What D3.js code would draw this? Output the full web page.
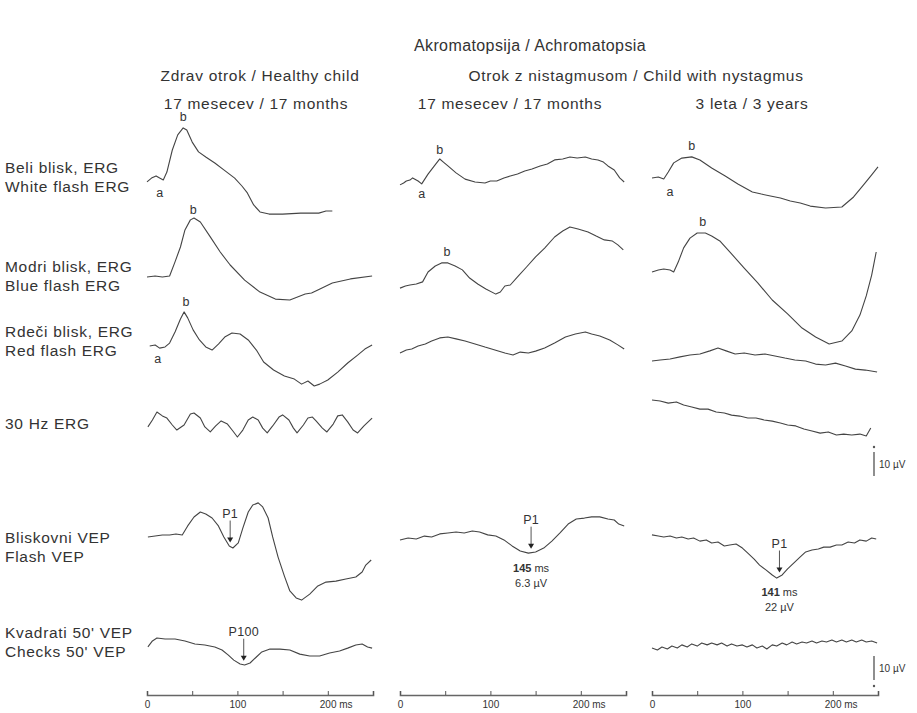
<!DOCTYPE html>
<html>
<head>
<meta charset="utf-8">
<script src="https://cdn.jsdelivr.net/npm/d3@7/dist/d3.min.js"></script>
<style>
    body { margin: 0; background: #ffffff; }
    svg text { font-family: 'Liberation Sans', Arial, sans-serif; fill: #333333; }
</style>
</head>
<body>
<svg id="chart" width="917" height="713"></svg>
<script>

// time axis (ms) and labels
var timeTicks = [ 0, 50, 100, 150, 200, 250 ];
var timeLabels = [ 0, 100, 200 ];

var title = 'Akromatopsija / Achromatopsia';
var groupHeaders = [ 'Zdrav otrok / Healthy child', 'Otrok z nistagmusom / Child with nystagmus' ];
var columnHeaders = [ '17 mesecev / 17 months', '17 mesecev / 17 months', '3 leta / 3 years' ];

var rowLabels = [
    [ 'Beli blisk, ERG', 'White flash ERG' ],
    [ 'Modri blisk, ERG', 'Blue flash ERG' ],
    [ 'Rdeči blisk, ERG', 'Red flash ERG' ],
    [ '30 Hz ERG' ],
    [ 'Bliskovni VEP', 'Flash VEP' ],
    [ 'Kvadrati 50\' VEP', 'Checks 50\' VEP' ]
];

// traces: [ ms, µV ]
var whiteHealthy = [ [0,-0.8],[5,0.8],[10,1.7],[14,0.8],[18,0],[22,3.3],[28,12.5],[34,18.8],[40,21.7],[44,20.8],[50,15.8],[57,11.7],[65,9.6],[75,7.1],[85,4.2],[97,0.8],[105,-2.5],[111,-5.4],[118,-10.4],[125,-13.3],[135,-14.2],[150,-14.2],[170,-13.8],[190,-13.8],[198,-12.9],[205,-12.9] ];
var whiteNyst17 = [ [0,-1.2],[4,-0.4],[7,0.4],[11,0.8],[14,1.7],[20,0.4],[24,-0.8],[31,3.3],[38,6.7],[44,9.6],[48,8.3],[53,6.7],[62,3.8],[72,1.2],[83,0],[94,-0.4],[100,0.4],[107,0.4],[115,1.7],[122,2.5],[130,3.3],[138,4.6],[146,5.4],[155,6.7],[163,7.5],[171,9.2],[180,9.6],[188,10.4],[196,10],[205,10.4],[212,9.6],[219,9.2],[225,8.3],[230,6.7],[237,5],[243,1.7],[248,0] ];
var whiteNyst3 = [ [0,0],[7,0.4],[13,-0.4],[18,2.5],[24,6.3],[33,8.3],[44,8.8],[53,7.5],[66,4.2],[81,0.8],[95,-2.5],[111,-5.8],[121,-6.7],[131,-7.5],[142,-8.3],[153,-9.6],[164,-10.4],[175,-11.7],[192,-12.5],[210,-12.1],[223,-7.9],[234,-2.9],[243,1.3],[250,4.6] ];

var blueHealthy = [ [0,0],[9,0.4],[17,0],[25,0.4],[31,6.3],[37,12.5],[42,19.6],[48,23.8],[52,24.6],[59,22.9],[70,16.7],[81,10.4],[92,5],[108,-1.3],[125,-6.3],[142,-9.2],[158,-9.6],[175,-7.1],[182,-6.7],[189,-5.4],[205,-2.5],[225,-0.8],[249,0.4] ];
var blueNyst17 = [ [0,-1.3],[6,-0.4],[11,0],[18,0.4],[25,1.3],[31,5.4],[39,7.9],[46,9.2],[53,9.2],[61,7.9],[69,6.3],[77,2.9],[86,0.4],[95,-1.7],[106,-3.8],[111,-2.9],[116,-0.4],[122,0],[131,3.8],[140,7.5],[150,11.7],[160,15.4],[171,20],[180,22.5],[188,24.2],[197,23.3],[208,22.1],[217,20.4],[226,18.8],[235,18.3],[241,16.7],[247,14.6] ];
var blueNyst3 = [ [0,-0.8],[7,0],[13,0.4],[20,0],[24,-0.8],[29,3.3],[35,9.2],[42,13.3],[50,15.4],[59,15.4],[66,14.2],[75,12.1],[88,6.7],[102,0.8],[117,-5.4],[133,-12.5],[150,-18.3],[166,-24.2],[181,-27.9],[196,-30.8],[210,-29.6],[221,-25.4],[230,-18.8],[237,-10.8],[243,-2.1],[248,7.5] ];

var redHealthy = [ [3,-0.4],[9,0],[14,-1.3],[20,-0.8],[25,0.8],[31,5.4],[37,10.8],[41,13.8],[45,11.3],[51,6.3],[58,2.1],[65,-0.8],[72,-2.1],[79,0.4],[86,3.3],[94,5],[103,4.6],[112,2.1],[121,-2.1],[129,-7.1],[140,-10.4],[152,-12.9],[163,-14.2],[171,-16.3],[178,-15],[185,-17.1],[191,-16.3],[200,-14.6],[211,-11.3],[222,-7.5],[233,-4.2],[241,-1.7],[249,0] ];
var redNyst17 = [ [0,-2.1],[7,-0.8],[13,-0.4],[20,0.8],[28,1.7],[35,2.9],[44,4.2],[53,4.6],[62,3.8],[72,2.9],[83,1.7],[94,0.4],[105,-0.8],[116,-2.1],[125,-2.9],[133,-1.7],[142,-2.1],[150,-1.3],[160,0],[171,2.1],[183,4.6],[194,5.8],[205,6.7],[212,5.8],[221,5],[232,3.3],[241,1.3],[248,-0.4] ];
var redNyst3 = [ [0,-0.4],[9,0],[20,0.4],[31,1.3],[42,2.1],[53,2.5],[64,3.8],[73,5],[82,3.8],[92,2.5],[102,2.9],[114,2.1],[125,2.5],[136,1.7],[147,0.8],[158,0],[170,-0.4],[181,-1.7],[192,-2.1],[203,-1.3],[214,-2.5],[225,-3.8],[236,-4.2],[249,-5] ];

var flickerHealthy = [ [1,-0.8],[6,2.1],[11,5.4],[17,3.8],[22,2.9],[28,0],[33,-2.1],[41,0],[48,4.6],[52,5],[59,2.9],[64,-0.8],[70,-2.9],[76,-0.4],[82,1.7],[89,0.4],[95,-2.5],[100,-5],[106,-2.1],[112,2.1],[117,3.3],[123,2.1],[128,-1.3],[133,-3.3],[139,-0.4],[146,3.3],[150,4.2],[157,2.1],[162,-1.3],[166,-3.3],[173,0],[178,2.9],[183,3.3],[187,1.7],[194,-1.3],[199,-2.9],[206,0.4],[211,3.8],[216,4.2],[222,1.3],[228,-2.1],[233,-3.3],[240,-0.4],[249,2.9] ];
var flickerNyst3 = [ [0,0],[9,-0.4],[18,-1.3],[27,-0.8],[35,-2.1],[44,-2.9],[53,-3.8],[62,-3.8],[71,-5],[80,-5.4],[88,-6.3],[97,-6.7],[106,-7.5],[115,-7.5],[124,-8.3],[133,-8.8],[142,-9.6],[150,-10.4],[159,-10.8],[168,-12.1],[177,-12.9],[186,-13.8],[195,-13.3],[204,-14.6],[212,-14.2],[221,-14.6],[230,-14.2],[237,-15],[242,-11.7] ];

var flashHealthy = [ [1,-0.4],[9,0],[17,0.4],[25,0.4],[32,0.8],[39,0.4],[45,4.2],[52,7.9],[59,10],[65,9.2],[72,7.5],[79,4.2],[85,-0.4],[91,-4.2],[95,-5],[101,-2.9],[106,3.3],[112,10],[117,12.9],[123,13.8],[128,12.1],[134,7.5],[139,-0.4],[145,-8.8],[152,-16.7],[158,-22.9],[165,-25.8],[171,-26.7],[180,-24.2],[189,-20.8],[198,-19.2],[209,-18.8],[220,-17.9],[231,-17.1],[238,-15],[242,-12.1],[248,-10] ];
var flashNyst17 = [ [0,-0.8],[9,0],[18,-0.4],[27,0.8],[35,0.4],[44,1.7],[53,2.1],[62,2.5],[71,2.1],[80,2.9],[88,2.5],[97,1.3],[106,0.8],[115,-0.8],[124,-3.3],[133,-5.4],[142,-6.3],[150,-5.8],[159,-4.2],[168,-1.3],[177,2.1],[186,5.8],[195,7.9],[204,8.3],[212,8.8],[221,8.8],[230,7.9],[237,7.5],[242,5.8],[248,5] ];
var flashNyst3 = [ [0,1.3],[7,0.8],[13,0.4],[20,0.8],[27,0],[33,0.4],[40,-0.4],[46,0],[53,-1.3],[60,-0.8],[66,-2.1],[73,-1.7],[80,-3.3],[86,-2.9],[93,-2.5],[100,-4.2],[106,-6.3],[113,-8.8],[119,-11.3],[126,-13.3],[133,-15.4],[138,-16.7],[144,-15.4],[150,-12.9],[157,-10.4],[164,-7.9],[170,-5.8],[177,-5],[184,-4.6],[190,-3.8],[197,-3.8],[204,-2.9],[210,-2.9],[217,-1.7],[224,-2.1],[230,-0.8],[237,-1.3],[243,0],[248,-0.4] ];

var checksHealthy = [ [1,-0.8],[6,1.7],[11,2.9],[20,2.5],[31,2.5],[42,1.7],[53,0.4],[64,0],[75,-0.8],[83,-2.1],[90,-4.2],[96,-6.3],[103,-7.9],[108,-8.3],[114,-7.5],[121,-5],[127,-2.9],[136,-1.7],[147,-1.7],[158,-2.1],[169,-3.8],[180,-4.6],[191,-4.6],[202,-3.3],[213,-2.5],[222,-1.3],[231,0],[238,0.4],[244,-0.8],[249,-1.3] ];
var checksNyst3 = [ [0,0],[6,-0.8],[11,0.4],[17,-0.4],[22,0.8],[28,0],[33,1.3],[39,0.4],[44,1.7],[50,0.8],[55,2.1],[61,1.3],[66,2.1],[72,1.3],[77,2.1],[83,0.8],[88,1.7],[94,0.8],[100,1.3],[105,0.4],[111,1.3],[116,0],[122,0.8],[127,-0.4],[133,1.3],[138,0.8],[144,2.1],[149,1.3],[155,2.5],[160,1.7],[166,2.5],[171,2.1],[177,2.9],[182,2.1],[188,2.9],[193,2.5],[199,3.3],[204,2.5],[210,3.3],[215,2.5],[221,3.3],[226,2.5],[232,3.3],[237,2.5],[243,2.9],[249,2.1] ];

// P1 / P100 latency (ms) and amplitude (µV)
var p1Latency = [ 92, 145, 141 ];
var p1Amplitude = [ null, '6.3', '22' ];
var p100Latency = 107;

// ---- layout ----
var colX = [ 147, 400, 652 ];
var colW = 226;
var axisY = 695;

var x = colX.map( function ( x0 ) {
    return d3.scaleLinear().domain([ 0, 250 ]).range([ x0, x0 + colW ]);
});

// 10 µV = 24 px
var uv = d3.scaleLinear().domain([ 0, 10 ]).range([ 0, -24 ]);

var traces = [
    { data: whiteHealthy,   col: 0, base: 180 },
    { data: whiteNyst17,    col: 1, base: 182 },
    { data: whiteNyst3,     col: 2, base: 178 },
    { data: blueHealthy,    col: 0, base: 277 },
    { data: blueNyst17,     col: 1, base: 285 },
    { data: blueNyst3,      col: 2, base: 270 },
    { data: redHealthy,     col: 0, base: 345 },
    { data: redNyst17,      col: 1, base: 348 },
    { data: redNyst3,       col: 2, base: 360 },
    { data: flickerHealthy, col: 0, base: 425 },
    { data: flickerNyst3,   col: 2, base: 400 },
    { data: flashHealthy,   col: 0, base: 536 },
    { data: flashNyst17,    col: 1, base: 538 },
    { data: flashNyst3,     col: 2, base: 538 },
    { data: checksHealthy,  col: 0, base: 645 },
    { data: checksNyst3,    col: 2, base: 648 }
];

var rowLabelY = [ 167, 266, 331, 423, 537, 632 ];

var svg = d3.select('#chart');

function valueAt ( t, ms ) {

    var d = t.data;

    for ( var i = 1; i < d.length; i++ ) {
        if ( d[ i ][ 0 ] >= ms ) {
            var k = ( ms - d[ i - 1 ][ 0 ] ) / ( d[ i ][ 0 ] - d[ i - 1 ][ 0 ] );
            return d[ i - 1 ][ 1 ] + k * ( d[ i ][ 1 ] - d[ i - 1 ][ 1 ] );
        }
    }

    return d[ d.length - 1 ][ 1 ];

}

function yOf ( t, v ) {

    return t.base + uv( v );

}

function label ( sel, size, spacing ) {

    return sel
        .attr('dominant-baseline', 'central')
        .style('font-size', size + 'px')
        .style('letter-spacing', spacing + 'px');

}

// titles
label( svg.append('text'), 16, 0.4 )
    .attr('x', 530)
    .attr('y', 45)
    .attr('text-anchor', 'middle')
    .text( title );

svg.selectAll('.group-header')
    .data( groupHeaders )
    .enter().append('text')
    .attr('class', 'group-header')
    .call( label, 15.5, 0.7 )
    .attr('x', function ( d, i ) { return [ 260, 636 ][ i ]; })
    .attr('y', 75)
    .attr('text-anchor', 'middle')
    .text( function ( d ) { return d; });

svg.selectAll('.col-header')
    .data( columnHeaders )
    .enter().append('text')
    .attr('class', 'col-header')
    .call( label, 15.5, 0.7 )
    .attr('x', function ( d, i ) { return [ 256, 510, 752 ][ i ]; })
    .attr('y', 103)
    .attr('text-anchor', 'middle')
    .text( function ( d ) { return d; });

// row labels
rowLabels.forEach( function ( lines, r ) {

    lines.forEach( function ( s, j ) {

        label( svg.append('text'), 15.5, 0.7 )
            .attr('x', 5)
            .attr('y', rowLabelY[ r ] + j * 19)
            .text( s );

    });

});

// traces
traces.forEach( function ( t ) {

    var line = d3.line()
        .x( function ( d ) { return x[ t.col ]( d[ 0 ] ); })
        .y( function ( d ) { return yOf( t, d[ 1 ] ); });

    svg.append('path')
        .datum( t.data )
        .attr('d', line)
        .attr('fill', 'none')
        .attr('stroke', '#444444')
        .attr('stroke-width', 1.1)
        .attr('stroke-linejoin', 'round');

});

// a / b wave labels: [ trace index, text, ms, y ]
var waveMarks = [
    [ 0, 'a', 14, 193 ], [ 0, 'b', 40, 117 ],
    [ 1, 'a', 24, 194 ], [ 1, 'b', 44, 150 ],
    [ 2, 'a', 20, 192 ], [ 2, 'b', 44, 146 ],
    [ 3, 'b', 51, 210 ],
    [ 4, 'b', 52, 252 ],
    [ 5, 'b', 56, 222 ],
    [ 6, 'a', 12, 359 ], [ 6, 'b', 43, 302 ]
];

waveMarks.forEach( function ( m ) {

    var t = traces[ m[ 0 ] ];

    label( svg.append('text'), 12.5, 0 )
        .attr('x', x[ t.col ]( m[ 2 ] ))
        .attr('y', m[ 3 ])
        .attr('text-anchor', 'middle')
        .text( m[ 1 ] );

});

// peak arrows
function arrow ( t, ms, text, labelGap ) {

    var px = x[ t.col ]( ms );
    var tip = yOf( t, valueAt( t, ms ) ) - 4;
    var top = tip - 22;

    label( svg.append('text'), 12.5, 0.3 )
        .attr('x', px)
        .attr('y', top - labelGap)
        .attr('text-anchor', 'middle')
        .text( text );

    svg.append('line')
        .attr('x1', px).attr('x2', px)
        .attr('y1', top).attr('y2', tip - 4)
        .attr('stroke', '#555555')
        .attr('stroke-width', 1);

    svg.append('path')
        .attr('d', 'M' + ( px - 3 ) + ',' + ( tip - 5 ) + 'L' + ( px + 3 ) + ',' + ( tip - 5 ) + 'L' + px + ',' + tip + 'Z')
        .attr('fill', '#222222');

    return tip;

}

var vepRows = [ traces[ 11 ], traces[ 12 ], traces[ 13 ] ];

vepRows.forEach( function ( t, i ) {

    var tip = arrow( t, p1Latency[ i ], 'P1', 7 );

    if ( p1Amplitude[ i ] ) {

        var px = x[ t.col ]( p1Latency[ i ] );
        var lat = label( svg.append('text'), 11, 0 )
            .attr('x', px)
            .attr('y', tip + 19)
            .attr('text-anchor', 'middle');

        lat.append('tspan').style('font-weight', 'bold').text( p1Latency[ i ] );
        lat.append('tspan').text(' ms');

        label( svg.append('text'), 11, 0 )
            .attr('x', px)
            .attr('y', tip + 34)
            .attr('text-anchor', 'middle')
            .text( p1Amplitude[ i ] + ' \u00b5V' );

    }

});

arrow( traces[ 14 ], p100Latency, 'P100', 7 );

// time axes
colX.forEach( function ( x0, c ) {

    var axis = d3.axisBottom( x[ c ] )
        .tickValues( timeTicks )
        .tickSizeInner( -4 )
        .tickSizeOuter( -4 )
        .tickPadding( 6 )
        .tickFormat( function ( d ) { return timeLabels.indexOf( d ) >= 0 ? d : ''; });

    var g = svg.append('g')
        .attr('transform', 'translate(0,' + axisY + ')')
        .call( axis );

    g.select('.domain').attr('stroke', '#666666').attr('stroke-width', 1.6);
    g.selectAll('.tick line').attr('stroke', '#555555');
    g.selectAll('.tick text')
        .style('font-size', '10px')
        .attr('fill', '#333333')
        .filter( function ( d ) { return d === 200; })
        .attr('text-anchor', 'start')
        .attr('dx', '-0.85em')
        .append('tspan')
        .text(' ms');

});

// 10 µV scale bars
[ { top: 452, dot: 447 }, { top: 656, dot: 686 } ].forEach( function ( s ) {

    var bx = 874;

    svg.append('line')
        .attr('x1', bx).attr('x2', bx)
        .attr('y1', s.top).attr('y2', s.top - uv( 10 ))
        .attr('stroke', '#444444')
        .attr('stroke-width', 1.2);

    svg.append('circle')
        .attr('cx', bx).attr('cy', s.dot)
        .attr('r', 1.2)
        .attr('fill', '#555555');

    label( svg.append('text'), 10, 0 )
        .attr('x', bx + 5)
        .attr('y', s.top - uv( 5 ))
        .text('10 \u00b5V');

});

</script>
</body>
</html>
